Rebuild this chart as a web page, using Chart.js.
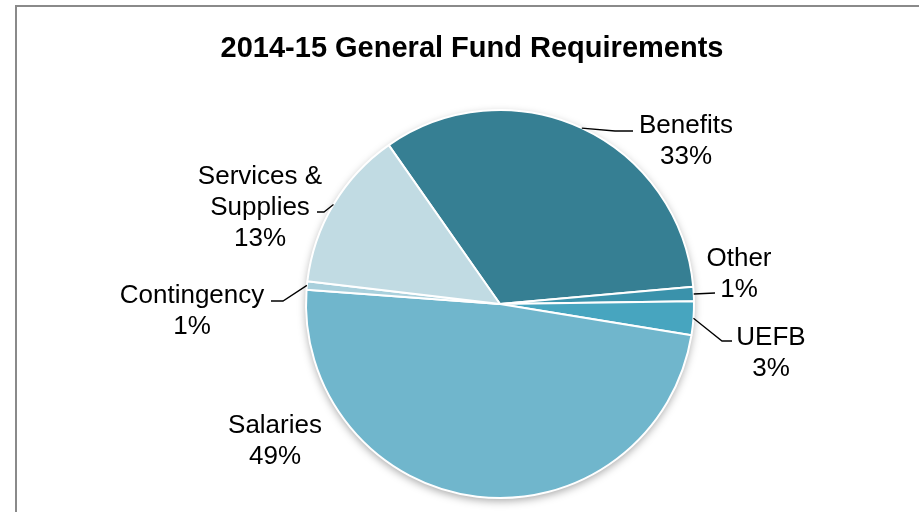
<!DOCTYPE html>
<html lang="en">
<head>
    <meta charset="UTF-8">
    <title>2014-15 General Fund Requirements</title>
    <script src="https://cdn.jsdelivr.net/npm/chart.js"></script>
    <style>
        html, body { margin: 0; padding: 0; background: #fff; }
    </style>
</head>
<body>
    <canvas id="fundChart" width="919" height="512"></canvas>

    <script>
        // share of the general fund per category (percent)
        const categories = ['Benefits', 'Other', 'UEFB', 'Salaries', 'Contingency', 'Services & Supplies'];
        const labelLines = [['Benefits'], ['Other'], ['UEFB'], ['Salaries'], ['Contingency'], ['Services &', 'Supplies']];
        const shares = [33.3, 1.2, 2.8, 48.6, 0.7, 13.4];
        const sliceColors = ['#367f93', '#3a92ab', '#47a5bf', '#70b6cc', '#a9d0dc', '#c1dbe3'];

        const FONT = "'Liberation Sans', Arial, sans-serif";

        // where each label sits (centre of first line) and the bends of its leader line
        const labelSpots = [
            { x: 686, y: 126, path: [[615, 131], [633, 131]] },
            { x: 739, y: 259, path: [[715, 293]] },
            { x: 771, y: 338, path: [[722, 341], [732, 341]] },
            { x: 275, y: 426, path: null },
            { x: 192, y: 296, path: [[283, 301], [271, 301]] },
            { x: 260, y: 177, path: [[324, 212], [317, 212]] }
        ];

        // grey frame and title
        const framePlugin = {
            id: 'frame',
            beforeDraw(chart) {
                const ctx = chart.ctx;
                ctx.save();
                ctx.strokeStyle = '#8a8a8a';
                ctx.lineWidth = 2;
                ctx.beginPath();
                ctx.moveTo(16, 520);
                ctx.lineTo(16, 6);
                ctx.lineTo(930, 6);
                ctx.stroke();

                ctx.fillStyle = '#000';
                ctx.font = 'bold 29px ' + FONT;
                ctx.textAlign = 'center';
                ctx.textBaseline = 'middle';
                ctx.fillText('2014-15 General Fund Requirements', 472, 49);
                ctx.restore();
            }
        };

        // soft shadow under the whole pie
        const shadowPlugin = {
            id: 'pieShadow',
            beforeDatasetsDraw(chart) {
                const arc = chart.getDatasetMeta(0).data[0];
                if (!arc) return;
                const ctx = chart.ctx;
                ctx.save();
                ctx.shadowColor = 'rgba(0, 0, 0, 0.35)';
                ctx.shadowBlur = 8;
                ctx.shadowOffsetY = 3;
                ctx.fillStyle = '#ffffff';
                ctx.beginPath();
                ctx.arc(arc.x, arc.y, arc.outerRadius, 0, Math.PI * 2);
                ctx.fill();
                ctx.restore();
            }
        };

        // category name + rounded percent, with leader lines from the slice edge
        const labelPlugin = {
            id: 'sliceLabels',
            afterDatasetsDraw(chart) {
                const ctx = chart.ctx;
                const meta = chart.getDatasetMeta(0);
                const total = shares.reduce((a, b) => a + b, 0);
                ctx.save();
                meta.data.forEach((arc, i) => {
                    const spot = labelSpots[i];
                    const p = arc.getProps(['x', 'y', 'startAngle', 'endAngle', 'outerRadius'], true);
                    const mid = (p.startAngle + p.endAngle) / 2;

                    if (spot.path) {
                        ctx.strokeStyle = '#000';
                        ctx.lineWidth = 1.3;
                        ctx.beginPath();
                        ctx.moveTo(p.x + Math.cos(mid) * p.outerRadius, p.y + Math.sin(mid) * p.outerRadius);
                        spot.path.forEach(pt => ctx.lineTo(pt[0], pt[1]));
                        ctx.stroke();
                    }

                    const lines = labelLines[i].concat([Math.round(shares[i] / total * 100) + '%']);
                    ctx.fillStyle = '#000';
                    ctx.font = '26px ' + FONT;
                    ctx.textAlign = 'center';
                    ctx.textBaseline = 'middle';
                    lines.forEach((txt, k) => ctx.fillText(txt, spot.x, spot.y + k * 31));
                });
                ctx.restore();
            }
        };

        new Chart(document.getElementById('fundChart'), {
            type: 'pie',
            data: {
                labels: categories,
                datasets: [{
                    data: shares,
                    backgroundColor: sliceColors,
                    borderColor: '#ffffff',
                    borderWidth: 2
                }]
            },
            options: {
                responsive: false,
                animation: false,
                events: [],
                rotation: -35,
                radius: 194,
                layout: { padding: { top: 110, bottom: 14, left: 110, right: 29 } },
                plugins: {
                    legend: { display: false },
                    title: { display: false },
                    tooltip: { enabled: false }
                }
            },
            plugins: [framePlugin, shadowPlugin, labelPlugin]
        });
    </script>
</body>
</html>
